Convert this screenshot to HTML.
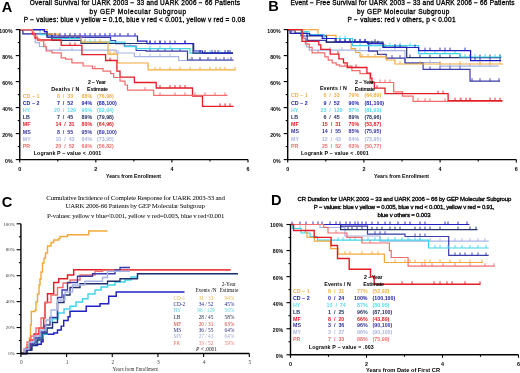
<!DOCTYPE html>
<html><head><meta charset="utf-8"><style>
html,body{margin:0;padding:0;background:#fff;}
svg{display:block;will-change:transform;}
</style></head><body>
<svg width="520" height="373" viewBox="0 0 520 373">
<rect width="520" height="373" fill="#fff"/>
<text x="1.8" y="11.6" font-size="14.6" text-anchor="start" fill="#000" font-weight="bold" style="font-family:&quot;Liberation Sans&quot;">A</text>
<text x="29.8" y="5.0" font-size="6.5" text-anchor="start" fill="#000" font-weight="normal" style="font-family:&quot;Liberation Sans&quot;" textLength="210.2" lengthAdjust="spacing" stroke="#000" stroke-width="0.3">Overall Survival for UARK 2003 &#8722; 33 and UARK 2006 &#8722; 66 Patients</text>
<text x="89.5" y="13.8" font-size="6.5" text-anchor="start" fill="#000" font-weight="normal" style="font-family:&quot;Liberation Sans&quot;" textLength="96.5" lengthAdjust="spacing" stroke="#000" stroke-width="0.3">by GEP Molecular Subgroup</text>
<text x="23.8" y="22.0" font-size="6.5" text-anchor="start" fill="#000" font-weight="normal" style="font-family:&quot;Liberation Sans&quot;" textLength="221.2" lengthAdjust="spacing" stroke="#000" stroke-width="0.3">P &#8722; values: blue v yellow = 0.16, blue v red &lt; 0.001, yellow v red = 0.08</text>
<path d="M19.75 29.6H22.9V33.9H35.3V42.7H39.4V46.5H46.2V50.2H116.2V53H134.4V56.7H178.7V60.5H233.5" fill="none" stroke="#a6b4e4" stroke-width="1.2"/>
<path d="M60 47.2V50.2M72 47.2V50.2M118 50.0V53M140 53.7V56.7M150 53.7V56.7M160 53.7V56.7M170 53.7V56.7M190 57.5V60.5M200 57.5V60.5M210 57.5V60.5M220 57.5V60.5M228 57.5V60.5" fill="none" stroke="#a6b4e4" stroke-width="0.9"/>
<path d="M19.75 29.6H22.9V33.9H47V37.4H110.6V40.5H115.6V43.6H124.4V46.1H136.2V50.5H146.2V51.1H187.5V60H233.5" fill="none" stroke="#3a3aa8" stroke-width="1.2"/>
<path d="M150 48.1V51.1M158 48.1V51.1M165 48.1V51.1M172 48.1V51.1M180 48.1V51.1M192 57.0V60M200 57.0V60M208 57.0V60M216 57.0V60M224 57.0V60M231 57.0V60" fill="none" stroke="#3a3aa8" stroke-width="0.9"/>
<path d="M19.75 29.6H40V34.7H52V38.5H81.2V42.2H125V46.7H136.2V48.6H190V53.1H233" fill="none" stroke="#3fd6ea" stroke-width="1.2"/>
<path d="M70 35.5V38.5M75 35.5V38.5M85 39.2V42.2M90 39.2V42.2M95 39.2V42.2M110 39.2V42.2M130 43.7V46.7M150 45.6V48.6M160 45.6V48.6M170 45.6V48.6M200 50.1V53.1M210 50.1V53.1M220 50.1V53.1M228 50.1V53.1" fill="none" stroke="#3fd6ea" stroke-width="0.9"/>
<path d="M19.75 29.6H44.4V31.6H46.9V34.1H51.9V40.4H81V43.5H193V53.1H233" fill="none" stroke="#22306e" stroke-width="1.2"/>
<path d="M150 40.5V43.5M160 40.5V43.5M170 40.5V43.5M185 40.5V43.5M200 50.1V53.1M215 50.1V53.1M228 50.1V53.1" fill="none" stroke="#22306e" stroke-width="0.9"/>
<path d="M19.75 29.6H47V34.1H58.7V36H81.2V42.2H108V54.2H117.5V63H148.1V69.9H235.5" fill="none" stroke="#f2a93b" stroke-width="1.2"/>
<path d="M85 39.2V42.2M100 39.2V42.2M110 51.2V54.2M114 51.2V54.2M155 66.9V69.9M160 66.9V69.9M170 66.9V69.9M180 66.9V69.9M190 66.9V69.9M200 66.9V69.9M210 66.9V69.9M216 66.9V69.9M220 66.9V69.9M225 66.9V69.9M235 66.9V69.9" fill="none" stroke="#f2a93b" stroke-width="0.9"/>
<path d="M19.75 29.6H44.4V31.6H47V36H137.5V41.1H146.9V43.6H193.7V51H202.5V53.1H233" fill="none" stroke="#2020c4" stroke-width="1.2"/>
<path d="M55 33.0V36M60 33.0V36M65 33.0V36M70 33.0V36M75 33.0V36M80 33.0V36M85 33.0V36M90 33.0V36M95 33.0V36M100 33.0V36M105 33.0V36M110 33.0V36M115 33.0V36M120 33.0V36M128 33.0V36M135 33.0V36M150 40.6V43.6M155 40.6V43.6M160 40.6V43.6M165 40.6V43.6M175 40.6V43.6M185 40.6V43.6M205 50.1V53.1M212 50.1V53.1M218 50.1V53.1M225 50.1V53.1M230 50.1V53.1" fill="none" stroke="#2020c4" stroke-width="0.9"/>
<path d="M19.75 29.6H32.4V34H35V38H37.5V40H61.2V45.4H81.9V54.7H105.6V60.5H116.9V71.2H120V77.2H134.4V82.5H156.2V88H192.5V96H202.5V106.3H233.7" fill="none" stroke="#e41e26" stroke-width="1.3"/>
<path d="M70 42.4V45.4M75 42.4V45.4M110 57.5V60.5M160 85.0V88M170 85.0V88M175 85.0V88M180 85.0V88M185 85.0V88M220 103.3V106.3M225 103.3V106.3M230 103.3V106.3" fill="none" stroke="#e41e26" stroke-width="0.9"/>
<path d="M19.75 29.6H32.4V32H34V36H37V39H40V41H43.7V46.6H46.2V51H51.9V52.9H61.2V57.9H65.6V59.1H71.9V62.9H83.1V66H92.5V68.7H103V71.2H110.6V73.7H113.7V77.5H120V81.2H125V85H127.5V90.2H153.7V95.3H227.5" fill="none" stroke="#f06c6c" stroke-width="1.2"/>
<path d="M45 43.6V46.6M95 65.7V68.7M145 87.2V90.2M160 92.3V95.3M175 92.3V95.3M185 92.3V95.3M195 92.3V95.3M205 92.3V95.3M215 92.3V95.3M225 92.3V95.3" fill="none" stroke="#f06c6c" stroke-width="0.9"/>
<line x1="19.75" y1="29.6" x2="19.75" y2="160.1" stroke="#000" stroke-width="1.4"/>
<line x1="19.05" y1="159.6" x2="248.0" y2="159.6" stroke="#000" stroke-width="1.4"/>
<line x1="15.75" y1="159.6" x2="19.75" y2="159.6" stroke="#000" stroke-width="1.1"/>
<text x="12.6" y="162.5" font-size="5.2" text-anchor="end" fill="#000" font-weight="bold" style="font-family:&quot;Liberation Sans&quot;">0%</text>
<line x1="17.75" y1="146.6" x2="19.75" y2="146.6" stroke="#000" stroke-width="1.1"/>
<line x1="15.75" y1="133.6" x2="19.75" y2="133.6" stroke="#000" stroke-width="1.1"/>
<text x="12.6" y="136.5" font-size="5.2" text-anchor="end" fill="#000" font-weight="bold" style="font-family:&quot;Liberation Sans&quot;">20%</text>
<line x1="17.75" y1="120.6" x2="19.75" y2="120.6" stroke="#000" stroke-width="1.1"/>
<line x1="15.75" y1="107.6" x2="19.75" y2="107.6" stroke="#000" stroke-width="1.1"/>
<text x="12.6" y="110.5" font-size="5.2" text-anchor="end" fill="#000" font-weight="bold" style="font-family:&quot;Liberation Sans&quot;">40%</text>
<line x1="17.75" y1="94.6" x2="19.75" y2="94.6" stroke="#000" stroke-width="1.1"/>
<line x1="15.75" y1="81.6" x2="19.75" y2="81.6" stroke="#000" stroke-width="1.1"/>
<text x="12.6" y="84.5" font-size="5.2" text-anchor="end" fill="#000" font-weight="bold" style="font-family:&quot;Liberation Sans&quot;">60%</text>
<line x1="17.75" y1="68.6" x2="19.75" y2="68.6" stroke="#000" stroke-width="1.1"/>
<line x1="15.75" y1="55.599999999999994" x2="19.75" y2="55.599999999999994" stroke="#000" stroke-width="1.1"/>
<text x="12.6" y="58.49999999999999" font-size="5.2" text-anchor="end" fill="#000" font-weight="bold" style="font-family:&quot;Liberation Sans&quot;">80%</text>
<line x1="17.75" y1="42.599999999999994" x2="19.75" y2="42.599999999999994" stroke="#000" stroke-width="1.1"/>
<line x1="15.75" y1="29.599999999999994" x2="19.75" y2="29.599999999999994" stroke="#000" stroke-width="1.1"/>
<text x="12.6" y="32.49999999999999" font-size="5.2" text-anchor="end" fill="#000" font-weight="bold" style="font-family:&quot;Liberation Sans&quot;">100%</text>
<line x1="19.75" y1="159.6" x2="19.75" y2="162.6" stroke="#000" stroke-width="1.1"/>
<line x1="57.791666666666664" y1="159.6" x2="57.791666666666664" y2="161.6" stroke="#000" stroke-width="1.1"/>
<line x1="95.83333333333333" y1="159.6" x2="95.83333333333333" y2="162.6" stroke="#000" stroke-width="1.1"/>
<line x1="133.875" y1="159.6" x2="133.875" y2="161.6" stroke="#000" stroke-width="1.1"/>
<line x1="171.91666666666666" y1="159.6" x2="171.91666666666666" y2="162.6" stroke="#000" stroke-width="1.1"/>
<line x1="209.95833333333331" y1="159.6" x2="209.95833333333331" y2="161.6" stroke="#000" stroke-width="1.1"/>
<line x1="248.0" y1="159.6" x2="248.0" y2="162.6" stroke="#000" stroke-width="1.1"/>
<text x="19.75" y="171.2" font-size="5.4" text-anchor="middle" fill="#000" font-weight="bold" style="font-family:&quot;Liberation Sans&quot;">0</text>
<text x="95.83333333333333" y="171.2" font-size="5.4" text-anchor="middle" fill="#000" font-weight="bold" style="font-family:&quot;Liberation Sans&quot;">2</text>
<text x="171.91666666666666" y="171.2" font-size="5.4" text-anchor="middle" fill="#000" font-weight="bold" style="font-family:&quot;Liberation Sans&quot;">4</text>
<text x="248.0" y="171.2" font-size="5.4" text-anchor="middle" fill="#000" font-weight="bold" style="font-family:&quot;Liberation Sans&quot;">6</text>
<text x="106" y="177.6" font-size="5.2" text-anchor="start" fill="#000" font-weight="bold" style="font-family:&quot;Liberation Sans&quot;" textLength="55" lengthAdjust="spacingAndGlyphs">Years from Enrollment</text>
<text x="88" y="83.5" font-size="5.3" text-anchor="start" fill="#000" font-weight="bold" style="font-family:&quot;Liberation Sans&quot;" textLength="18" lengthAdjust="spacing">2 &#8722; Year</text>
<text x="51.25" y="90.5" font-size="5.3" text-anchor="start" fill="#000" font-weight="bold" style="font-family:&quot;Liberation Sans&quot;" textLength="28.15" lengthAdjust="spacing">Deaths / N</text>
<text x="87" y="90.5" font-size="5.3" text-anchor="start" fill="#000" font-weight="bold" style="font-family:&quot;Liberation Sans&quot;" textLength="21" lengthAdjust="spacing">Estimate</text>
<text x="22.8" y="97.6" font-size="5.3" text-anchor="start" fill="#f2b04a" font-weight="bold" style="font-family:&quot;Liberation Sans&quot;">CD &#8722; 1</text>
<text x="65" y="97.6" font-size="5.3" text-anchor="middle" fill="#f2b04a" font-weight="bold" style="font-family:&quot;Liberation Sans&quot;">8 &#160;/&#160; 33</text>
<text x="92.2" y="97.6" font-size="5.3" text-anchor="end" fill="#f2b04a" font-weight="bold" style="font-family:&quot;Liberation Sans&quot;">88%</text>
<text x="97" y="97.6" font-size="5.3" text-anchor="start" fill="#f2b04a" font-weight="bold" style="font-family:&quot;Liberation Sans&quot;">(76,98)</text>
<text x="22.8" y="104.9" font-size="5.3" text-anchor="start" fill="#1c1ca8" font-weight="bold" style="font-family:&quot;Liberation Sans&quot;">CD &#8722; 2</text>
<text x="65" y="104.9" font-size="5.3" text-anchor="middle" fill="#1c1ca8" font-weight="bold" style="font-family:&quot;Liberation Sans&quot;">7 &#160;/&#160; 52</text>
<text x="92.2" y="104.9" font-size="5.3" text-anchor="end" fill="#1c1ca8" font-weight="bold" style="font-family:&quot;Liberation Sans&quot;">94%</text>
<text x="97" y="104.9" font-size="5.3" text-anchor="start" fill="#1c1ca8" font-weight="bold" style="font-family:&quot;Liberation Sans&quot;">(88,100)</text>
<text x="22.8" y="112.0" font-size="5.3" text-anchor="start" fill="#5cdcec" font-weight="bold" style="font-family:&quot;Liberation Sans&quot;">HY</text>
<text x="65" y="112.0" font-size="5.3" text-anchor="middle" fill="#5cdcec" font-weight="bold" style="font-family:&quot;Liberation Sans&quot;">20 &#160;/&#160; 129</text>
<text x="92.2" y="112.0" font-size="5.3" text-anchor="end" fill="#5cdcec" font-weight="bold" style="font-family:&quot;Liberation Sans&quot;">90%</text>
<text x="97" y="112.0" font-size="5.3" text-anchor="start" fill="#5cdcec" font-weight="bold" style="font-family:&quot;Liberation Sans&quot;">(82,94)</text>
<text x="22.8" y="119.1" font-size="5.3" text-anchor="start" fill="#1e2c5e" font-weight="bold" style="font-family:&quot;Liberation Sans&quot;">LB</text>
<text x="65" y="119.1" font-size="5.3" text-anchor="middle" fill="#1e2c5e" font-weight="bold" style="font-family:&quot;Liberation Sans&quot;">7 &#160;/&#160; 45</text>
<text x="92.2" y="119.1" font-size="5.3" text-anchor="end" fill="#1e2c5e" font-weight="bold" style="font-family:&quot;Liberation Sans&quot;">89%</text>
<text x="97" y="119.1" font-size="5.3" text-anchor="start" fill="#1e2c5e" font-weight="bold" style="font-family:&quot;Liberation Sans&quot;">(79,98)</text>
<text x="22.8" y="126.3" font-size="5.3" text-anchor="start" fill="#e41e26" font-weight="bold" style="font-family:&quot;Liberation Sans&quot;">MF</text>
<text x="65" y="126.3" font-size="5.3" text-anchor="middle" fill="#e41e26" font-weight="bold" style="font-family:&quot;Liberation Sans&quot;">14 &#160;/&#160; 31</text>
<text x="92.2" y="126.3" font-size="5.3" text-anchor="end" fill="#e41e26" font-weight="bold" style="font-family:&quot;Liberation Sans&quot;">80%</text>
<text x="97" y="126.3" font-size="5.3" text-anchor="start" fill="#e41e26" font-weight="bold" style="font-family:&quot;Liberation Sans&quot;">(64,96)</text>
<text x="22.8" y="133.5" font-size="5.3" text-anchor="start" fill="#34349e" font-weight="bold" style="font-family:&quot;Liberation Sans&quot;">MS</text>
<text x="65" y="133.5" font-size="5.3" text-anchor="middle" fill="#34349e" font-weight="bold" style="font-family:&quot;Liberation Sans&quot;">8 &#160;/&#160; 55</text>
<text x="92.2" y="133.5" font-size="5.3" text-anchor="end" fill="#34349e" font-weight="bold" style="font-family:&quot;Liberation Sans&quot;">95%</text>
<text x="97" y="133.5" font-size="5.3" text-anchor="start" fill="#34349e" font-weight="bold" style="font-family:&quot;Liberation Sans&quot;">(89,100)</text>
<text x="22.8" y="140.7" font-size="5.3" text-anchor="start" fill="#aab6e0" font-weight="bold" style="font-family:&quot;Liberation Sans&quot;">MY</text>
<text x="65" y="140.7" font-size="5.3" text-anchor="middle" fill="#aab6e0" font-weight="bold" style="font-family:&quot;Liberation Sans&quot;">10 &#160;/&#160; 43</text>
<text x="92.2" y="140.7" font-size="5.3" text-anchor="end" fill="#aab6e0" font-weight="bold" style="font-family:&quot;Liberation Sans&quot;">84%</text>
<text x="97" y="140.7" font-size="5.3" text-anchor="start" fill="#aab6e0" font-weight="bold" style="font-family:&quot;Liberation Sans&quot;">(73,95)</text>
<text x="22.8" y="147.9" font-size="5.3" text-anchor="start" fill="#f07070" font-weight="bold" style="font-family:&quot;Liberation Sans&quot;">PR</text>
<text x="65" y="147.9" font-size="5.3" text-anchor="middle" fill="#f07070" font-weight="bold" style="font-family:&quot;Liberation Sans&quot;">20 &#160;/&#160; 52</text>
<text x="92.2" y="147.9" font-size="5.3" text-anchor="end" fill="#f07070" font-weight="bold" style="font-family:&quot;Liberation Sans&quot;">69%</text>
<text x="97" y="147.9" font-size="5.3" text-anchor="start" fill="#f07070" font-weight="bold" style="font-family:&quot;Liberation Sans&quot;">(56,82)</text>
<text x="33.75" y="155.1" font-size="5.3" text-anchor="start" fill="#000" font-weight="bold" style="font-family:&quot;Liberation Sans&quot;" textLength="67.5" lengthAdjust="spacing">Logrank P &#8722; value &lt; .0001</text>
<text x="268.3" y="10.7" font-size="14.6" text-anchor="start" fill="#000" font-weight="bold" style="font-family:&quot;Liberation Sans&quot;">B</text>
<text x="290.5" y="5.0" font-size="6.5" text-anchor="start" fill="#000" font-weight="normal" style="font-family:&quot;Liberation Sans&quot;" textLength="224" lengthAdjust="spacing" stroke="#000" stroke-width="0.3">Event &#8722; Free Survival for UARK 2003 &#8722; 33 and UARK 2006 &#8722; 66 Patients</text>
<text x="357" y="13.8" font-size="6.5" text-anchor="start" fill="#000" font-weight="normal" style="font-family:&quot;Liberation Sans&quot;" textLength="92.3" lengthAdjust="spacing" stroke="#000" stroke-width="0.3">by GEP Molecular Subgroup</text>
<text x="347.5" y="22.0" font-size="6.5" text-anchor="start" fill="#000" font-weight="normal" style="font-family:&quot;Liberation Sans&quot;" textLength="108" lengthAdjust="spacing" stroke="#000" stroke-width="0.3">P &#8722; values: red v others, p &lt; 0.001</text>
<path d="M287.7 29.6H293V33H303.4V38.7H306.7V46.8H309.4V50.1H355V50.6H405V62.5H440V66.2H498.7" fill="none" stroke="#a6b4e4" stroke-width="1.2"/>
<path d="M330 47.1V50.1M342 47.1V50.1M360 47.6V50.6M380 47.6V50.6M395 47.6V50.6M430 59.5V62.5M450 63.2V66.2M460 63.2V66.2M470 63.2V66.2M480 63.2V66.2M490 63.2V66.2" fill="none" stroke="#a6b4e4" stroke-width="0.9"/>
<path d="M287.7 29.6H290V33.5H301V36H307.2V40.4H326V42.2H368.7V51.2H377.5V54.4H386.2V58.1H405V63.1H423.1V69.4H470V81.2H500" fill="none" stroke="#3a3aa8" stroke-width="1.2"/>
<path d="M340 39.2V42.2M350 39.2V42.2M360 39.2V42.2M392 55.1V58.1M400 55.1V58.1M430 66.4V69.4M440 66.4V69.4M450 66.4V69.4M460 66.4V69.4M472 78.2V81.2M480 78.2V81.2M490 78.2V81.2M499 78.2V81.2" fill="none" stroke="#3a3aa8" stroke-width="0.9"/>
<path d="M287.7 29.6H318V35.4H336V41.9H351.2V48.7H355.6V52.5H360V56.9H386.2V60H395V64H503.1" fill="none" stroke="#f2a93b" stroke-width="1.2"/>
<path d="M362 53.9V56.9M368 53.9V56.9M375 53.9V56.9M381 53.9V56.9M400 61.0V64M420 61.0V64M440 61.0V64M460 61.0V64M480 61.0V64M490 61.0V64M500 61.0V64" fill="none" stroke="#f2a93b" stroke-width="0.9"/>
<path d="M287.7 29.6H295V33H307V36H326.6V42.2H383V47.2H406.7V57.6H501" fill="none" stroke="#22306e" stroke-width="1.2"/>
<path d="M335 39.2V42.2M345 39.2V42.2M355 39.2V42.2M365 39.2V42.2M375 39.2V42.2M385 44.2V47.2M395 44.2V47.2M410 54.6V57.6M420 54.6V57.6M430 54.6V57.6M440 54.6V57.6M450 54.6V57.6M460 54.6V57.6M470 54.6V57.6M480 54.6V57.6M490 54.6V57.6M500 54.6V57.6" fill="none" stroke="#22306e" stroke-width="0.9"/>
<path d="M287.7 29.6H301V31.6H309V34.7H324V38.5H352.5V45.6H418.7V53.7H460V57H501.9" fill="none" stroke="#3fd6ea" stroke-width="1.2"/>
<path d="M340 35.5V38.5M345 35.5V38.5M360 42.6V45.6M370 42.6V45.6M380 42.6V45.6M390 42.6V45.6M400 42.6V45.6M410 42.6V45.6M425 50.7V53.7M435 50.7V53.7M445 50.7V53.7M455 50.7V53.7M465 54.0V57M475 54.0V57M485 54.0V57M495 54.0V57M500 54.0V57" fill="none" stroke="#3fd6ea" stroke-width="0.9"/>
<path d="M287.7 29.6H291V33.5H309.7V35.4H322.2V38.5H336V41.9H367.5V43.7H383.1V47.5H418.7V50.6H470.6V60.6H501.2" fill="none" stroke="#2020c4" stroke-width="1.2"/>
<path d="M340 38.9V41.9M345 38.9V41.9M350 38.9V41.9M355 38.9V41.9M360 38.9V41.9M365 38.9V41.9M372 40.7V43.7M378 40.7V43.7M395 44.5V47.5M400 44.5V47.5M415 44.5V47.5M425 47.6V50.6M430 47.6V50.6M440 47.6V50.6M445 47.6V50.6M450 47.6V50.6M465 47.6V50.6M475 57.6V60.6M480 57.6V60.6M490 57.6V60.6M500 57.6V60.6" fill="none" stroke="#2020c4" stroke-width="0.9"/>
<path d="M287.7 29.6H302V38H305.4V44.1H309.4V47.4H312.1V52.8H324.8V56.8H328.2V60.2H332.2V62.9H336.2V64.9H339.6V66.2H351.9V70.6H360V73.7H370V82.5H393.7V91.9H402.5V96.2H413.1V101.3H502.5" fill="none" stroke="#f06c6c" stroke-width="1.2"/>
<path d="M318 49.8V52.8M345 63.2V66.2M380 79.5V82.5M385 79.5V82.5M390 79.5V82.5M418 98.3V101.3M425 98.3V101.3M430 98.3V101.3M445 98.3V101.3M460 98.3V101.3M470 98.3V101.3" fill="none" stroke="#f06c6c" stroke-width="0.9"/>
<path d="M287.7 29.6H302V41.4H318.8V44.8H320.8V49.4H330.2V54.1H338.9V58.8H343.5V62.9H347.2V67.5H366.9V73.1H370.6V78.1H372V82.5H374.4V88.1H385V93.7H448.1V100.6H502.5" fill="none" stroke="#e41e26" stroke-width="1.3"/>
<path d="M338 51.1V54.1M356 64.5V67.5M377 85.1V88.1M438 90.7V93.7M443 90.7V93.7M455 97.6V100.6M461 97.6V100.6M466 97.6V100.6M470 97.6V100.6M490 97.6V100.6M495 97.6V100.6M500 97.6V100.6" fill="none" stroke="#e41e26" stroke-width="0.9"/>
<line x1="287.7" y1="29.6" x2="287.7" y2="160.1" stroke="#000" stroke-width="1.4"/>
<line x1="287.0" y1="159.6" x2="516.3" y2="159.6" stroke="#000" stroke-width="1.4"/>
<line x1="283.7" y1="159.6" x2="287.7" y2="159.6" stroke="#000" stroke-width="1.1"/>
<text x="280.6" y="162.5" font-size="5.2" text-anchor="end" fill="#000" font-weight="bold" style="font-family:&quot;Liberation Sans&quot;">0%</text>
<line x1="285.7" y1="146.6" x2="287.7" y2="146.6" stroke="#000" stroke-width="1.1"/>
<line x1="283.7" y1="133.6" x2="287.7" y2="133.6" stroke="#000" stroke-width="1.1"/>
<text x="280.6" y="136.5" font-size="5.2" text-anchor="end" fill="#000" font-weight="bold" style="font-family:&quot;Liberation Sans&quot;">20%</text>
<line x1="285.7" y1="120.6" x2="287.7" y2="120.6" stroke="#000" stroke-width="1.1"/>
<line x1="283.7" y1="107.6" x2="287.7" y2="107.6" stroke="#000" stroke-width="1.1"/>
<text x="280.6" y="110.5" font-size="5.2" text-anchor="end" fill="#000" font-weight="bold" style="font-family:&quot;Liberation Sans&quot;">40%</text>
<line x1="285.7" y1="94.6" x2="287.7" y2="94.6" stroke="#000" stroke-width="1.1"/>
<line x1="283.7" y1="81.6" x2="287.7" y2="81.6" stroke="#000" stroke-width="1.1"/>
<text x="280.6" y="84.5" font-size="5.2" text-anchor="end" fill="#000" font-weight="bold" style="font-family:&quot;Liberation Sans&quot;">60%</text>
<line x1="285.7" y1="68.6" x2="287.7" y2="68.6" stroke="#000" stroke-width="1.1"/>
<line x1="283.7" y1="55.599999999999994" x2="287.7" y2="55.599999999999994" stroke="#000" stroke-width="1.1"/>
<text x="280.6" y="58.49999999999999" font-size="5.2" text-anchor="end" fill="#000" font-weight="bold" style="font-family:&quot;Liberation Sans&quot;">80%</text>
<line x1="285.7" y1="42.599999999999994" x2="287.7" y2="42.599999999999994" stroke="#000" stroke-width="1.1"/>
<line x1="283.7" y1="29.599999999999994" x2="287.7" y2="29.599999999999994" stroke="#000" stroke-width="1.1"/>
<text x="280.6" y="32.49999999999999" font-size="5.2" text-anchor="end" fill="#000" font-weight="bold" style="font-family:&quot;Liberation Sans&quot;">100%</text>
<line x1="287.7" y1="159.6" x2="287.7" y2="162.6" stroke="#000" stroke-width="1.1"/>
<line x1="325.79999999999995" y1="159.6" x2="325.79999999999995" y2="161.6" stroke="#000" stroke-width="1.1"/>
<line x1="363.9" y1="159.6" x2="363.9" y2="162.6" stroke="#000" stroke-width="1.1"/>
<line x1="402.0" y1="159.6" x2="402.0" y2="161.6" stroke="#000" stroke-width="1.1"/>
<line x1="440.09999999999997" y1="159.6" x2="440.09999999999997" y2="162.6" stroke="#000" stroke-width="1.1"/>
<line x1="478.19999999999993" y1="159.6" x2="478.19999999999993" y2="161.6" stroke="#000" stroke-width="1.1"/>
<line x1="516.3" y1="159.6" x2="516.3" y2="162.6" stroke="#000" stroke-width="1.1"/>
<text x="287.7" y="171.2" font-size="5.4" text-anchor="middle" fill="#000" font-weight="bold" style="font-family:&quot;Liberation Sans&quot;">0</text>
<text x="363.9" y="171.2" font-size="5.4" text-anchor="middle" fill="#000" font-weight="bold" style="font-family:&quot;Liberation Sans&quot;">2</text>
<text x="440.09999999999997" y="171.2" font-size="5.4" text-anchor="middle" fill="#000" font-weight="bold" style="font-family:&quot;Liberation Sans&quot;">4</text>
<text x="516.3" y="171.2" font-size="5.4" text-anchor="middle" fill="#000" font-weight="bold" style="font-family:&quot;Liberation Sans&quot;">6</text>
<text x="374" y="177.6" font-size="5.2" text-anchor="start" fill="#000" font-weight="bold" style="font-family:&quot;Liberation Sans&quot;" textLength="55" lengthAdjust="spacingAndGlyphs">Years from Enrollment</text>
<text x="355" y="83.5" font-size="5.3" text-anchor="start" fill="#000" font-weight="bold" style="font-family:&quot;Liberation Sans&quot;" textLength="18.75" lengthAdjust="spacing">2 &#8722; Year</text>
<text x="319.9" y="90.1" font-size="5.3" text-anchor="start" fill="#000" font-weight="bold" style="font-family:&quot;Liberation Sans&quot;" textLength="26.85" lengthAdjust="spacing">Events / N</text>
<text x="354.75" y="90.5" font-size="5.3" text-anchor="start" fill="#000" font-weight="bold" style="font-family:&quot;Liberation Sans&quot;" textLength="20.25" lengthAdjust="spacing">Estimate</text>
<text x="291" y="97.0" font-size="5.3" text-anchor="start" fill="#f2b04a" font-weight="bold" style="font-family:&quot;Liberation Sans&quot;">CD &#8722; 1</text>
<text x="331.5" y="97.0" font-size="5.3" text-anchor="middle" fill="#f2b04a" font-weight="bold" style="font-family:&quot;Liberation Sans&quot;">6 &#160;/&#160; 33</text>
<text x="359.2" y="97.0" font-size="5.3" text-anchor="end" fill="#f2b04a" font-weight="bold" style="font-family:&quot;Liberation Sans&quot;">79%</text>
<text x="364.4" y="97.0" font-size="5.3" text-anchor="start" fill="#f2b04a" font-weight="bold" style="font-family:&quot;Liberation Sans&quot;">(64,89)</text>
<text x="291" y="104.7" font-size="5.3" text-anchor="start" fill="#1c1ca8" font-weight="bold" style="font-family:&quot;Liberation Sans&quot;">CD &#8722; 2</text>
<text x="331.5" y="104.7" font-size="5.3" text-anchor="middle" fill="#1c1ca8" font-weight="bold" style="font-family:&quot;Liberation Sans&quot;">9 &#160;/&#160; 52</text>
<text x="359.2" y="104.7" font-size="5.3" text-anchor="end" fill="#1c1ca8" font-weight="bold" style="font-family:&quot;Liberation Sans&quot;">90%</text>
<text x="364.4" y="104.7" font-size="5.3" text-anchor="start" fill="#1c1ca8" font-weight="bold" style="font-family:&quot;Liberation Sans&quot;">(81,100)</text>
<text x="291" y="111.8" font-size="5.3" text-anchor="start" fill="#5cdcec" font-weight="bold" style="font-family:&quot;Liberation Sans&quot;">HY</text>
<text x="331.5" y="111.8" font-size="5.3" text-anchor="middle" fill="#5cdcec" font-weight="bold" style="font-family:&quot;Liberation Sans&quot;">23 &#160;/&#160; 129</text>
<text x="359.2" y="111.8" font-size="5.3" text-anchor="end" fill="#5cdcec" font-weight="bold" style="font-family:&quot;Liberation Sans&quot;">87%</text>
<text x="364.4" y="111.8" font-size="5.3" text-anchor="start" fill="#5cdcec" font-weight="bold" style="font-family:&quot;Liberation Sans&quot;">(81,93)</text>
<text x="291" y="118.9" font-size="5.3" text-anchor="start" fill="#1e2c5e" font-weight="bold" style="font-family:&quot;Liberation Sans&quot;">LB</text>
<text x="331.5" y="118.9" font-size="5.3" text-anchor="middle" fill="#1e2c5e" font-weight="bold" style="font-family:&quot;Liberation Sans&quot;">6 &#160;/&#160; 45</text>
<text x="359.2" y="118.9" font-size="5.3" text-anchor="end" fill="#1e2c5e" font-weight="bold" style="font-family:&quot;Liberation Sans&quot;">89%</text>
<text x="364.4" y="118.9" font-size="5.3" text-anchor="start" fill="#1e2c5e" font-weight="bold" style="font-family:&quot;Liberation Sans&quot;">(78,96)</text>
<text x="291" y="126.0" font-size="5.3" text-anchor="start" fill="#e41e26" font-weight="bold" style="font-family:&quot;Liberation Sans&quot;">MF</text>
<text x="331.5" y="126.0" font-size="5.3" text-anchor="middle" fill="#e41e26" font-weight="bold" style="font-family:&quot;Liberation Sans&quot;">15 &#160;/&#160; 31</text>
<text x="359.2" y="126.0" font-size="5.3" text-anchor="end" fill="#e41e26" font-weight="bold" style="font-family:&quot;Liberation Sans&quot;">70%</text>
<text x="364.4" y="126.0" font-size="5.3" text-anchor="start" fill="#e41e26" font-weight="bold" style="font-family:&quot;Liberation Sans&quot;">(53,87)</text>
<text x="291" y="133.3" font-size="5.3" text-anchor="start" fill="#34349e" font-weight="bold" style="font-family:&quot;Liberation Sans&quot;">MS</text>
<text x="331.5" y="133.3" font-size="5.3" text-anchor="middle" fill="#34349e" font-weight="bold" style="font-family:&quot;Liberation Sans&quot;">14 &#160;/&#160; 55</text>
<text x="359.2" y="133.3" font-size="5.3" text-anchor="end" fill="#34349e" font-weight="bold" style="font-family:&quot;Liberation Sans&quot;">85%</text>
<text x="364.4" y="133.3" font-size="5.3" text-anchor="start" fill="#34349e" font-weight="bold" style="font-family:&quot;Liberation Sans&quot;">(75,95)</text>
<text x="291" y="140.5" font-size="5.3" text-anchor="start" fill="#aab6e0" font-weight="bold" style="font-family:&quot;Liberation Sans&quot;">MY</text>
<text x="331.5" y="140.5" font-size="5.3" text-anchor="middle" fill="#aab6e0" font-weight="bold" style="font-family:&quot;Liberation Sans&quot;">12 &#160;/&#160; 43</text>
<text x="359.2" y="140.5" font-size="5.3" text-anchor="end" fill="#aab6e0" font-weight="bold" style="font-family:&quot;Liberation Sans&quot;">84%</text>
<text x="364.4" y="140.5" font-size="5.3" text-anchor="start" fill="#aab6e0" font-weight="bold" style="font-family:&quot;Liberation Sans&quot;">(73,95)</text>
<text x="291" y="147.8" font-size="5.3" text-anchor="start" fill="#f07070" font-weight="bold" style="font-family:&quot;Liberation Sans&quot;">PR</text>
<text x="331.5" y="147.8" font-size="5.3" text-anchor="middle" fill="#f07070" font-weight="bold" style="font-family:&quot;Liberation Sans&quot;">25 &#160;/&#160; 52</text>
<text x="359.2" y="147.8" font-size="5.3" text-anchor="end" fill="#f07070" font-weight="bold" style="font-family:&quot;Liberation Sans&quot;">63%</text>
<text x="364.4" y="147.8" font-size="5.3" text-anchor="start" fill="#f07070" font-weight="bold" style="font-family:&quot;Liberation Sans&quot;">(50,77)</text>
<text x="301" y="154.9" font-size="5.3" text-anchor="start" fill="#000" font-weight="bold" style="font-family:&quot;Liberation Sans&quot;" textLength="67.8" lengthAdjust="spacing">Logrank P &#8722; value &lt; .0001</text>
<text x="1.8" y="207.3" font-size="14.6" text-anchor="start" fill="#000" font-weight="bold" style="font-family:&quot;Liberation Sans&quot;">C</text>
<text x="46.3" y="199.8" font-size="6.9" text-anchor="start" fill="#000" font-weight="normal" style="font-family:&quot;Liberation Serif&quot;" textLength="178.7" lengthAdjust="spacing">Cumulative Incidence of Complete Response for UARK 2003-33 and</text>
<text x="65.5" y="208.3" font-size="6.9" text-anchor="start" fill="#000" font-weight="normal" style="font-family:&quot;Liberation Serif&quot;" textLength="139.5" lengthAdjust="spacing">UARK 2006-66 Patients by GEP Molecular Subgroup</text>
<text x="47.0" y="217.6" font-size="6.9" text-anchor="start" fill="#000" font-weight="normal" style="font-family:&quot;Liberation Serif&quot;" textLength="177.5" lengthAdjust="spacing">P-values: yellow v blue&lt;0.001, yellow v red=0.003, blue v red&lt;0.001</text>
<path d="M20.9 353.5H25V351H27V345H29.4V338H30.5V325H31.3V311.5H35V310.3H36V302H37.5V294H39V285H40V279H41V272H42.5V263H44V258H45.5V253H47.5V246H51V242.5H53.7V240H58.7V238.6H60V236.5H67.5V234.8H88.7V231H107.5" fill="none" stroke="#f2a93b" stroke-width="1.45"/>
<path d="M20.9 353.5H26.9V350H31.2V345.5H37.5V344.2H41.2V341.7H43.1V334.2H53.7V333H57.5V329.9H61.2V326.1H63.7V320.5H68.1V316.7H70V311.3H86.2V306.2H100V303.7H108.7V296.2H116.2V292H184.5" fill="none" stroke="#2020c4" stroke-width="1.45"/>
<path d="M20.9 353.5H25V350H28V346H33V342H38V338H43V334H47V328H52.5V318.7H58V313H64V309H70V306.2H76V302H82.5V298.7H88V294H95V290H101V287H107.5V285H115V282H125V280H131V277H137.5V273.6H238" fill="none" stroke="#3fd6ea" stroke-width="1.45"/>
<path d="M20.9 353.5H26V348H30V340H34V334H39V328H43.7V318H45V302.5H47.5V293.7H53.7V282.5H58.7V278.7H67.5V275H73.7V269.8H230.5" fill="none" stroke="#e41e26" stroke-width="1.45"/>
<path d="M20.9 353.5H24V349H27V342H31V336H36V328H41V318H45V302.5H51V295H57.5V287.5H63V283H70V280H80V275H95V271.2H102.5V270.2H230.5" fill="none" stroke="#f06c6c" stroke-width="1.35"/>
<path d="M20.9 353.5H27V350H32V345H37V340H42V333H47V328H52.5V322.5H57.5V302.5H64V295H70V287.5H80V283.7H107.5V281.2H120V278.7H137.5V273.7H238" fill="none" stroke="#22306e" stroke-width="1.35"/>
<path d="M20.9 353.5H26V349H30V344H35V338H40V332H45V325H50V317.5H57.5V297.5H62V290H67.5V282.5H77.5V276.2H92.5V273.7H115V270H120V267.5H130" fill="none" stroke="#3a3aa8" stroke-width="1.35"/>
<path d="M20.9 353.5H25V349H29V342H34V336H40V330H46V320H51V310H57.5V300H65V292H72.5V285H85V281.2H102.5V277.5H107.5V271.2H130" fill="none" stroke="#a6b4e4" stroke-width="1.35"/>
<line x1="20.9" y1="223.8" x2="20.9" y2="354.0" stroke="#000" stroke-width="1.4"/>
<line x1="20.2" y1="353.5" x2="249.3" y2="353.5" stroke="#000" stroke-width="1.4"/>
<line x1="16.599999999999998" y1="353.5" x2="20.9" y2="353.5" stroke="#000" stroke-width="1.1"/>
<text x="14.8" y="355.2" font-size="4.9" text-anchor="end" fill="#333" font-weight="normal" style="font-family:&quot;Liberation Serif&quot;">0%</text>
<line x1="18.9" y1="340.53" x2="20.9" y2="340.53" stroke="#000" stroke-width="1.1"/>
<line x1="16.599999999999998" y1="327.56" x2="20.9" y2="327.56" stroke="#000" stroke-width="1.1"/>
<text x="14.8" y="329.26" font-size="4.9" text-anchor="end" fill="#333" font-weight="normal" style="font-family:&quot;Liberation Serif&quot;">20%</text>
<line x1="18.9" y1="314.59000000000003" x2="20.9" y2="314.59000000000003" stroke="#000" stroke-width="1.1"/>
<line x1="16.599999999999998" y1="301.62" x2="20.9" y2="301.62" stroke="#000" stroke-width="1.1"/>
<text x="14.8" y="303.32" font-size="4.9" text-anchor="end" fill="#333" font-weight="normal" style="font-family:&quot;Liberation Serif&quot;">40%</text>
<line x1="18.9" y1="288.65" x2="20.9" y2="288.65" stroke="#000" stroke-width="1.1"/>
<line x1="16.599999999999998" y1="275.68" x2="20.9" y2="275.68" stroke="#000" stroke-width="1.1"/>
<text x="14.8" y="277.38" font-size="4.9" text-anchor="end" fill="#333" font-weight="normal" style="font-family:&quot;Liberation Serif&quot;">60%</text>
<line x1="18.9" y1="262.71000000000004" x2="20.9" y2="262.71000000000004" stroke="#000" stroke-width="1.1"/>
<line x1="16.599999999999998" y1="249.74" x2="20.9" y2="249.74" stroke="#000" stroke-width="1.1"/>
<text x="14.8" y="251.44" font-size="4.9" text-anchor="end" fill="#333" font-weight="normal" style="font-family:&quot;Liberation Serif&quot;">80%</text>
<line x1="18.9" y1="236.77" x2="20.9" y2="236.77" stroke="#000" stroke-width="1.1"/>
<line x1="16.599999999999998" y1="223.8" x2="20.9" y2="223.8" stroke="#000" stroke-width="1.1"/>
<text x="14.8" y="225.5" font-size="4.9" text-anchor="end" fill="#333" font-weight="normal" style="font-family:&quot;Liberation Serif&quot;">100%</text>
<line x1="20.9" y1="353.5" x2="20.9" y2="357.0" stroke="#000" stroke-width="1.1"/>
<text x="21.4" y="364.3" font-size="5.4" text-anchor="middle" fill="#444" font-weight="normal" style="font-family:&quot;Liberation Serif&quot;">0</text>
<line x1="66.58" y1="353.5" x2="66.58" y2="357.0" stroke="#000" stroke-width="1.1"/>
<text x="67.08" y="364.3" font-size="5.4" text-anchor="middle" fill="#444" font-weight="normal" style="font-family:&quot;Liberation Serif&quot;">1</text>
<line x1="112.25999999999999" y1="353.5" x2="112.25999999999999" y2="357.0" stroke="#000" stroke-width="1.1"/>
<text x="112.75999999999999" y="364.3" font-size="5.4" text-anchor="middle" fill="#444" font-weight="normal" style="font-family:&quot;Liberation Serif&quot;">2</text>
<line x1="157.94" y1="353.5" x2="157.94" y2="357.0" stroke="#000" stroke-width="1.1"/>
<text x="158.44" y="364.3" font-size="5.4" text-anchor="middle" fill="#444" font-weight="normal" style="font-family:&quot;Liberation Serif&quot;">3</text>
<line x1="203.62" y1="353.5" x2="203.62" y2="357.0" stroke="#000" stroke-width="1.1"/>
<text x="204.12" y="364.3" font-size="5.4" text-anchor="middle" fill="#444" font-weight="normal" style="font-family:&quot;Liberation Serif&quot;">4</text>
<line x1="249.3" y1="353.5" x2="249.3" y2="357.0" stroke="#000" stroke-width="1.1"/>
<text x="249.8" y="364.3" font-size="5.4" text-anchor="middle" fill="#444" font-weight="normal" style="font-family:&quot;Liberation Serif&quot;">5</text>
<text x="112.5" y="371.0" font-size="5.6" text-anchor="start" fill="#333" font-weight="normal" style="font-family:&quot;Liberation Serif&quot;" textLength="45.5" lengthAdjust="spacingAndGlyphs">Years from Enrollment</text>
<text x="228.8" y="285.6" font-size="5.3" text-anchor="middle" fill="#111" font-weight="normal" style="font-family:&quot;Liberation Serif&quot;">2-Year</text>
<text x="206" y="292.4" font-size="5.3" text-anchor="middle" fill="#111" font-weight="normal" style="font-family:&quot;Liberation Serif&quot;">Events /N</text>
<text x="229" y="292.4" font-size="5.3" text-anchor="middle" fill="#111" font-weight="normal" style="font-family:&quot;Liberation Serif&quot;">Estimate</text>
<text x="173.5" y="299.5" font-size="5.3" text-anchor="start" fill="#e8b850" font-weight="normal" style="font-family:&quot;Liberation Serif&quot;">CD-1</text>
<text x="206" y="299.5" font-size="5.3" text-anchor="middle" fill="#e8b850" font-weight="normal" style="font-family:&quot;Liberation Serif&quot;">31 / 33</text>
<text x="224.6" y="299.5" font-size="5.3" text-anchor="start" fill="#e8b850" font-weight="normal" style="font-family:&quot;Liberation Serif&quot;">94%</text>
<text x="173.5" y="305.8" font-size="5.3" text-anchor="start" fill="#1c1c90" font-weight="normal" style="font-family:&quot;Liberation Serif&quot;">CD-2</text>
<text x="206" y="305.8" font-size="5.3" text-anchor="middle" fill="#1c1c90" font-weight="normal" style="font-family:&quot;Liberation Serif&quot;">34 / 52</text>
<text x="224.6" y="305.8" font-size="5.3" text-anchor="start" fill="#1c1c90" font-weight="normal" style="font-family:&quot;Liberation Serif&quot;">45%</text>
<text x="173.5" y="312.3" font-size="5.3" text-anchor="start" fill="#60d0e0" font-weight="normal" style="font-family:&quot;Liberation Serif&quot;">HY</text>
<text x="206" y="312.3" font-size="5.3" text-anchor="middle" fill="#60d0e0" font-weight="normal" style="font-family:&quot;Liberation Serif&quot;">96 / 129</text>
<text x="224.6" y="312.3" font-size="5.3" text-anchor="start" fill="#60d0e0" font-weight="normal" style="font-family:&quot;Liberation Serif&quot;">56%</text>
<text x="173.5" y="318.9" font-size="5.3" text-anchor="start" fill="#1c2848" font-weight="normal" style="font-family:&quot;Liberation Serif&quot;">LB</text>
<text x="206" y="318.9" font-size="5.3" text-anchor="middle" fill="#1c2848" font-weight="normal" style="font-family:&quot;Liberation Serif&quot;">28 / 45</text>
<text x="224.6" y="318.9" font-size="5.3" text-anchor="start" fill="#1c2848" font-weight="normal" style="font-family:&quot;Liberation Serif&quot;">58%</text>
<text x="173.5" y="325.7" font-size="5.3" text-anchor="start" fill="#d83a30" font-weight="normal" style="font-family:&quot;Liberation Serif&quot;">MF</text>
<text x="206" y="325.7" font-size="5.3" text-anchor="middle" fill="#d83a30" font-weight="normal" style="font-family:&quot;Liberation Serif&quot;">20 / 31</text>
<text x="224.6" y="325.7" font-size="5.3" text-anchor="start" fill="#d83a30" font-weight="normal" style="font-family:&quot;Liberation Serif&quot;">63%</text>
<text x="173.5" y="332.0" font-size="5.3" text-anchor="start" fill="#2c2c80" font-weight="normal" style="font-family:&quot;Liberation Serif&quot;">MS</text>
<text x="206" y="332.0" font-size="5.3" text-anchor="middle" fill="#2c2c80" font-weight="normal" style="font-family:&quot;Liberation Serif&quot;">36 / 55</text>
<text x="224.6" y="332.0" font-size="5.3" text-anchor="start" fill="#2c2c80" font-weight="normal" style="font-family:&quot;Liberation Serif&quot;">64%</text>
<text x="173.5" y="338.3" font-size="5.3" text-anchor="start" fill="#a0aad0" font-weight="normal" style="font-family:&quot;Liberation Serif&quot;">MY</text>
<text x="206" y="338.3" font-size="5.3" text-anchor="middle" fill="#a0aad0" font-weight="normal" style="font-family:&quot;Liberation Serif&quot;">27 / 43</text>
<text x="224.6" y="338.3" font-size="5.3" text-anchor="start" fill="#a0aad0" font-weight="normal" style="font-family:&quot;Liberation Serif&quot;">64%</text>
<text x="173.5" y="345.0" font-size="5.3" text-anchor="start" fill="#e87a70" font-weight="normal" style="font-family:&quot;Liberation Serif&quot;">PR</text>
<text x="206" y="345.0" font-size="5.3" text-anchor="middle" fill="#e87a70" font-weight="normal" style="font-family:&quot;Liberation Serif&quot;">33 / 52</text>
<text x="224.6" y="345.0" font-size="5.3" text-anchor="start" fill="#e87a70" font-weight="normal" style="font-family:&quot;Liberation Serif&quot;">59%</text>
<text x="206.5" y="351.4" font-size="5.3" text-anchor="middle" fill="#111" font-weight="normal" style="font-family:&quot;Liberation Serif&quot;"><tspan font-style="italic">P</tspan> &lt; .0001</text>
<text x="270.9" y="204.7" font-size="14.6" text-anchor="start" fill="#000" font-weight="bold" style="font-family:&quot;Liberation Sans&quot;">D</text>
<text x="297.5" y="201.0" font-size="6.0" text-anchor="start" fill="#000" font-weight="normal" style="font-family:&quot;Liberation Sans&quot;" textLength="213.8" lengthAdjust="spacing" stroke="#000" stroke-width="0.3">CR Duration for UARK 2003 &#8722; 33 and UARK 2006 &#8722; 66 by GEP Molecular Subgroup</text>
<text x="313.8" y="209.0" font-size="6.0" text-anchor="start" fill="#000" font-weight="normal" style="font-family:&quot;Liberation Sans&quot;" textLength="180.7" lengthAdjust="spacing" stroke="#000" stroke-width="0.3">P &#8722; values: blue v yellow = 0.005, blue v red &lt; 0.001, yellow v red = 0.91,</text>
<text x="377.5" y="216.6" font-size="6.0" text-anchor="start" fill="#000" font-weight="normal" style="font-family:&quot;Liberation Sans&quot;" textLength="53" lengthAdjust="spacing" stroke="#000" stroke-width="0.3">blue v others = 0.003</text>
<path d="M290.5 224.5H320V227.5H345V236H380V241.1H488.7" fill="none" stroke="#a6b4e4" stroke-width="1.2"/>
<path d="M410 238.1V241.1M420 238.1V241.1M430 238.1V241.1M440 238.1V241.1M455 238.1V241.1M462 238.1V241.1M470 238.1V241.1M478 238.1V241.1M485 238.1V241.1" fill="none" stroke="#a6b4e4" stroke-width="0.9"/>
<path d="M290.5 224.5H340.6V226.1H367.5V234.2H405V236.5H448.7V255.4H488.7" fill="none" stroke="#3a3aa8" stroke-width="1.2"/>
<path d="M375 231.2V234.2M380 231.2V234.2M385 231.2V234.2M415 233.5V236.5M420 233.5V236.5M425 233.5V236.5M455 252.4V255.4M460 252.4V255.4M465 252.4V255.4M472 252.4V255.4M478 252.4V255.4M486 252.4V255.4" fill="none" stroke="#3a3aa8" stroke-width="0.9"/>
<path d="M290.5 224.5H292.5V228.5H301V233H310V236.5H317.5V240.2H428.5V248H488.7" fill="none" stroke="#3fd6ea" stroke-width="1.2"/>
<path d="M300 225.5V228.5M305 230.0V233M338 237.2V240.2M343 237.2V240.2M350 237.2V240.2M355 237.2V240.2M362 237.2V240.2M368 237.2V240.2M375 237.2V240.2M380 237.2V240.2M388 237.2V240.2M395 237.2V240.2M402 237.2V240.2M408 237.2V240.2M415 237.2V240.2M420 237.2V240.2M435 245.0V248M440 245.0V248M448 245.0V248M455 245.0V248M462 245.0V248M470 245.0V248M478 245.0V248M486 245.0V248" fill="none" stroke="#3fd6ea" stroke-width="0.9"/>
<path d="M290.5 224.5H340.6V229.6H477.5" fill="none" stroke="#22306e" stroke-width="1.2"/>
<path d="M348 226.6V229.6M352 226.6V229.6M357 226.6V229.6M362 226.6V229.6M372 226.6V229.6M377 226.6V229.6M382 226.6V229.6M390 226.6V229.6M395 226.6V229.6M400 226.6V229.6M415 226.6V229.6M420 226.6V229.6M425 226.6V229.6M430 226.6V229.6M440 226.6V229.6M458 226.6V229.6M470 226.6V229.6M476 226.6V229.6" fill="none" stroke="#22306e" stroke-width="0.9"/>
<path d="M290.5 224.5H469.5" fill="none" stroke="#2020c4" stroke-width="1.2"/>
<path d="M292 221.5V224.5M300 221.5V224.5M306 221.5V224.5M313 221.5V224.5M318 221.5V224.5M322 221.5V224.5M330 221.5V224.5M336 221.5V224.5M340 221.5V224.5M346 221.5V224.5M350 221.5V224.5M355 221.5V224.5M358 221.5V224.5M362 221.5V224.5M366 221.5V224.5M372 221.5V224.5M378 221.5V224.5M385 221.5V224.5M390 221.5V224.5M398 221.5V224.5M405 221.5V224.5M410 221.5V224.5M420 221.5V224.5M425 221.5V224.5M445 221.5V224.5M448 221.5V224.5M458 221.5V224.5M467 221.5V224.5" fill="none" stroke="#2020c4" stroke-width="0.9"/>
<path d="M290.5 224.5H305.6V232.4H307V237.4H314.4V241.1H330.6V248.6H338V254.2H384.4V262.5H483.1" fill="none" stroke="#f2a93b" stroke-width="1.2"/>
<path d="M345 251.2V254.2M350 251.2V254.2M362 251.2V254.2M372 251.2V254.2M378 251.2V254.2M395 259.5V262.5M405 259.5V262.5M410 259.5V262.5M415 259.5V262.5M425 259.5V262.5M430 259.5V262.5M440 259.5V262.5M450 259.5V262.5M460 259.5V262.5M470 259.5V262.5M482 259.5V262.5" fill="none" stroke="#f2a93b" stroke-width="0.9"/>
<path d="M290.5 224.5H323.7V227.4H328V233H346.9V237.4H361.9V243H389.4V250.6H391.2V257.5H408.1V266.2H494.5" fill="none" stroke="#f06c6c" stroke-width="1.2"/>
<path d="M336 230.0V233M370 240.0V243M422 263.2V266.2M425 263.2V266.2M432 263.2V266.2M443 263.2V266.2M455 263.2V266.2M470 263.2V266.2M485 263.2V266.2M494 263.2V266.2" fill="none" stroke="#f06c6c" stroke-width="0.9"/>
<path d="M290.5 224.5H293.6V230.5H314.2V237.4H331.1V245.5H337.5V258.5H349.2V269.2H370.5V276.7H374.2V284.2H480.5" fill="none" stroke="#e41e26" stroke-width="1.4"/>
<path d="M402 281.2V284.2M412 281.2V284.2M434 281.2V284.2M440 281.2V284.2M447 281.2V284.2M452 281.2V284.2M465 281.2V284.2M480 281.2V284.2" fill="none" stroke="#e41e26" stroke-width="0.9"/>
<line x1="290.5" y1="224.5" x2="290.5" y2="355.3" stroke="#000" stroke-width="1.4"/>
<line x1="289.8" y1="354.8" x2="518.5" y2="354.8" stroke="#000" stroke-width="1.4"/>
<line x1="286.5" y1="354.8" x2="290.5" y2="354.8" stroke="#000" stroke-width="1.1"/>
<text x="283.2" y="357.7" font-size="5.2" text-anchor="end" fill="#000" font-weight="bold" style="font-family:&quot;Liberation Sans&quot;">0%</text>
<line x1="288.5" y1="341.77" x2="290.5" y2="341.77" stroke="#000" stroke-width="1.1"/>
<line x1="286.5" y1="328.74" x2="290.5" y2="328.74" stroke="#000" stroke-width="1.1"/>
<text x="283.2" y="331.64" font-size="5.2" text-anchor="end" fill="#000" font-weight="bold" style="font-family:&quot;Liberation Sans&quot;">20%</text>
<line x1="288.5" y1="315.71000000000004" x2="290.5" y2="315.71000000000004" stroke="#000" stroke-width="1.1"/>
<line x1="286.5" y1="302.68" x2="290.5" y2="302.68" stroke="#000" stroke-width="1.1"/>
<text x="283.2" y="305.58" font-size="5.2" text-anchor="end" fill="#000" font-weight="bold" style="font-family:&quot;Liberation Sans&quot;">40%</text>
<line x1="288.5" y1="289.65" x2="290.5" y2="289.65" stroke="#000" stroke-width="1.1"/>
<line x1="286.5" y1="276.62" x2="290.5" y2="276.62" stroke="#000" stroke-width="1.1"/>
<text x="283.2" y="279.52" font-size="5.2" text-anchor="end" fill="#000" font-weight="bold" style="font-family:&quot;Liberation Sans&quot;">60%</text>
<line x1="288.5" y1="263.59000000000003" x2="290.5" y2="263.59000000000003" stroke="#000" stroke-width="1.1"/>
<line x1="286.5" y1="250.56" x2="290.5" y2="250.56" stroke="#000" stroke-width="1.1"/>
<text x="283.2" y="253.46" font-size="5.2" text-anchor="end" fill="#000" font-weight="bold" style="font-family:&quot;Liberation Sans&quot;">80%</text>
<line x1="288.5" y1="237.53" x2="290.5" y2="237.53" stroke="#000" stroke-width="1.1"/>
<line x1="286.5" y1="224.5" x2="290.5" y2="224.5" stroke="#000" stroke-width="1.1"/>
<text x="283.2" y="227.4" font-size="5.2" text-anchor="end" fill="#000" font-weight="bold" style="font-family:&quot;Liberation Sans&quot;">100%</text>
<line x1="290.5" y1="354.8" x2="290.5" y2="357.8" stroke="#000" stroke-width="1.1"/>
<line x1="328.5" y1="354.8" x2="328.5" y2="356.8" stroke="#000" stroke-width="1.1"/>
<line x1="366.5" y1="354.8" x2="366.5" y2="357.8" stroke="#000" stroke-width="1.1"/>
<line x1="404.5" y1="354.8" x2="404.5" y2="356.8" stroke="#000" stroke-width="1.1"/>
<line x1="442.5" y1="354.8" x2="442.5" y2="357.8" stroke="#000" stroke-width="1.1"/>
<line x1="480.5" y1="354.8" x2="480.5" y2="356.8" stroke="#000" stroke-width="1.1"/>
<line x1="518.5" y1="354.8" x2="518.5" y2="357.8" stroke="#000" stroke-width="1.1"/>
<text x="290.5" y="365.8" font-size="5.4" text-anchor="middle" fill="#000" font-weight="bold" style="font-family:&quot;Liberation Sans&quot;">0</text>
<text x="366.5" y="365.8" font-size="5.4" text-anchor="middle" fill="#000" font-weight="bold" style="font-family:&quot;Liberation Sans&quot;">2</text>
<text x="442.5" y="365.8" font-size="5.4" text-anchor="middle" fill="#000" font-weight="bold" style="font-family:&quot;Liberation Sans&quot;">4</text>
<text x="518.5" y="365.8" font-size="5.4" text-anchor="middle" fill="#000" font-weight="bold" style="font-family:&quot;Liberation Sans&quot;">6</text>
<text x="366" y="372.2" font-size="5.2" text-anchor="start" fill="#000" font-weight="bold" style="font-family:&quot;Liberation Sans&quot;" textLength="74" lengthAdjust="spacingAndGlyphs">Years from Date of First CR</text>
<text x="364.1" y="279.1" font-size="5.3" text-anchor="start" fill="#000" font-weight="bold" style="font-family:&quot;Liberation Sans&quot;" textLength="18.5" lengthAdjust="spacing">2 &#8722; Year</text>
<text x="324.3" y="285.5" font-size="5.3" text-anchor="start" fill="#000" font-weight="bold" style="font-family:&quot;Liberation Sans&quot;" textLength="26.5" lengthAdjust="spacing">Events / N</text>
<text x="363.25" y="285.5" font-size="5.3" text-anchor="start" fill="#000" font-weight="bold" style="font-family:&quot;Liberation Sans&quot;" textLength="20.75" lengthAdjust="spacing">Estimate</text>
<text x="293" y="292.8" font-size="5.3" text-anchor="start" fill="#f2b04a" font-weight="bold" style="font-family:&quot;Liberation Sans&quot;">CD &#8722; 1</text>
<text x="336.2" y="292.8" font-size="5.3" text-anchor="middle" fill="#f2b04a" font-weight="bold" style="font-family:&quot;Liberation Sans&quot;">8 &#160;/&#160; 31</text>
<text x="367.6" y="292.8" font-size="5.3" text-anchor="end" fill="#f2b04a" font-weight="bold" style="font-family:&quot;Liberation Sans&quot;">77%</text>
<text x="372.6" y="292.8" font-size="5.3" text-anchor="start" fill="#f2b04a" font-weight="bold" style="font-family:&quot;Liberation Sans&quot;">(52,92)</text>
<text x="293" y="299.8" font-size="5.3" text-anchor="start" fill="#1c1ca8" font-weight="bold" style="font-family:&quot;Liberation Sans&quot;">CD &#8722; 2</text>
<text x="336.2" y="299.8" font-size="5.3" text-anchor="middle" fill="#1c1ca8" font-weight="bold" style="font-family:&quot;Liberation Sans&quot;">0 &#160;/&#160; 24</text>
<text x="367.6" y="299.8" font-size="5.3" text-anchor="end" fill="#1c1ca8" font-weight="bold" style="font-family:&quot;Liberation Sans&quot;">100%</text>
<text x="372.6" y="299.8" font-size="5.3" text-anchor="start" fill="#1c1ca8" font-weight="bold" style="font-family:&quot;Liberation Sans&quot;">(100,100)</text>
<text x="293" y="306.6" font-size="5.3" text-anchor="start" fill="#5cdcec" font-weight="bold" style="font-family:&quot;Liberation Sans&quot;">HY</text>
<text x="336.2" y="306.6" font-size="5.3" text-anchor="middle" fill="#5cdcec" font-weight="bold" style="font-family:&quot;Liberation Sans&quot;">10 &#160;/&#160; 74</text>
<text x="367.6" y="306.6" font-size="5.3" text-anchor="end" fill="#5cdcec" font-weight="bold" style="font-family:&quot;Liberation Sans&quot;">87%</text>
<text x="372.6" y="306.6" font-size="5.3" text-anchor="start" fill="#5cdcec" font-weight="bold" style="font-family:&quot;Liberation Sans&quot;">(80,95)</text>
<text x="293" y="313.5" font-size="5.3" text-anchor="start" fill="#1e2c5e" font-weight="bold" style="font-family:&quot;Liberation Sans&quot;">LB</text>
<text x="336.2" y="313.5" font-size="5.3" text-anchor="middle" fill="#1e2c5e" font-weight="bold" style="font-family:&quot;Liberation Sans&quot;">1 &#160;/&#160; 25</text>
<text x="367.6" y="313.5" font-size="5.3" text-anchor="end" fill="#1e2c5e" font-weight="bold" style="font-family:&quot;Liberation Sans&quot;">96%</text>
<text x="372.6" y="313.5" font-size="5.3" text-anchor="start" fill="#1e2c5e" font-weight="bold" style="font-family:&quot;Liberation Sans&quot;">(87,100)</text>
<text x="293" y="320.5" font-size="5.3" text-anchor="start" fill="#e41e26" font-weight="bold" style="font-family:&quot;Liberation Sans&quot;">MF</text>
<text x="336.2" y="320.5" font-size="5.3" text-anchor="middle" fill="#e41e26" font-weight="bold" style="font-family:&quot;Liberation Sans&quot;">8 &#160;/&#160; 20</text>
<text x="367.6" y="320.5" font-size="5.3" text-anchor="end" fill="#e41e26" font-weight="bold" style="font-family:&quot;Liberation Sans&quot;">66%</text>
<text x="372.6" y="320.5" font-size="5.3" text-anchor="start" fill="#e41e26" font-weight="bold" style="font-family:&quot;Liberation Sans&quot;">(43,89)</text>
<text x="293" y="327.3" font-size="5.3" text-anchor="start" fill="#34349e" font-weight="bold" style="font-family:&quot;Liberation Sans&quot;">MS</text>
<text x="336.2" y="327.3" font-size="5.3" text-anchor="middle" fill="#34349e" font-weight="bold" style="font-family:&quot;Liberation Sans&quot;">3 &#160;/&#160; 36</text>
<text x="367.6" y="327.3" font-size="5.3" text-anchor="end" fill="#34349e" font-weight="bold" style="font-family:&quot;Liberation Sans&quot;">96%</text>
<text x="372.6" y="327.3" font-size="5.3" text-anchor="start" fill="#34349e" font-weight="bold" style="font-family:&quot;Liberation Sans&quot;">(90,100)</text>
<text x="293" y="334.0" font-size="5.3" text-anchor="start" fill="#aab6e0" font-weight="bold" style="font-family:&quot;Liberation Sans&quot;">MY</text>
<text x="336.2" y="334.0" font-size="5.3" text-anchor="middle" fill="#aab6e0" font-weight="bold" style="font-family:&quot;Liberation Sans&quot;">3 &#160;/&#160; 27</text>
<text x="367.6" y="334.0" font-size="5.3" text-anchor="end" fill="#aab6e0" font-weight="bold" style="font-family:&quot;Liberation Sans&quot;">96%</text>
<text x="372.6" y="334.0" font-size="5.3" text-anchor="start" fill="#aab6e0" font-weight="bold" style="font-family:&quot;Liberation Sans&quot;">(90,100)</text>
<text x="293" y="341.0" font-size="5.3" text-anchor="start" fill="#f07070" font-weight="bold" style="font-family:&quot;Liberation Sans&quot;">PR</text>
<text x="336.2" y="341.0" font-size="5.3" text-anchor="middle" fill="#f07070" font-weight="bold" style="font-family:&quot;Liberation Sans&quot;">7 &#160;/&#160; 33</text>
<text x="367.6" y="341.0" font-size="5.3" text-anchor="end" fill="#f07070" font-weight="bold" style="font-family:&quot;Liberation Sans&quot;">88%</text>
<text x="372.6" y="341.0" font-size="5.3" text-anchor="start" fill="#f07070" font-weight="bold" style="font-family:&quot;Liberation Sans&quot;">(75,99)</text>
<text x="308.75" y="349.0" font-size="5.3" text-anchor="start" fill="#000" font-weight="bold" style="font-family:&quot;Liberation Sans&quot;" textLength="65.0" lengthAdjust="spacing">Logrank P &#8722; value = .003</text>
</svg>
</body></html>
